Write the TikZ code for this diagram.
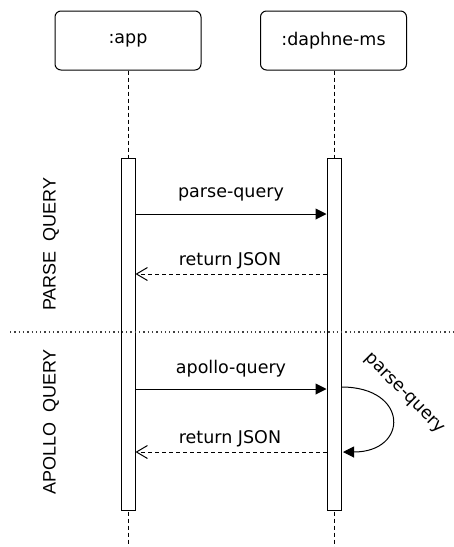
\documentclass[tikz,border=0pt]{standalone}
\usepackage{fontspec}
\setmainfont{DejaVu Sans}
\newfontfamily\framefont{Liberation Sans}
\usetikzlibrary{arrows.meta}

\tikzset{
  participant/.style={draw, line width=1pt, rounded corners=6pt,
    minimum width=146pt, minimum height=59pt, inner sep=0pt,
    font=\fontsize{17.5}{20}\selectfont},
  activation/.style={draw, line width=1pt, fill=white,
    minimum width=14pt, minimum height=352pt, inner sep=0pt},
  lifeline/.style={line width=1pt, dash pattern=on 4pt off 3pt},
  callmsg/.style={line width=1pt, -{Triangle[length=11pt,width=11pt]}},
  replymsg/.style={line width=1pt, dash pattern=on 4pt off 3pt,
    -{Straight Barb[length=11pt,width=13pt,line width=1pt]}},
  msglabel/.style={inner sep=0pt, font=\fontsize{17.5}{20}\selectfont},
  framelabel/.style={inner sep=0pt, rotate=90, font=\framefont\fontsize{18}{20}\selectfont},
  separator/.style={line width=1.2pt, black!75, dash pattern=on 1.3pt off 3pt}
}

\begin{document}
\begin{tikzpicture}[x=1pt, y=-1pt]
  \useasboundingbox (0,0) rectangle (454,547);

  % participants
  \node[participant] (app) at (128,40.5) {:app};
  \node[participant] (dms) at (333.5,40.5) {:daphne-ms};

  % lifeline ends
  \coordinate (endA) at (128,547);
  \coordinate (endD) at (334,547);

  % lifelines (drawn before the activation bars)
  \draw[lifeline] (app.south) -- (endA);
  \draw[lifeline] (dms.south -| endD) -- (endD);

  % activation bars
  \node[activation] (actA) at (128,334) {};
  \node[activation] (actD) at (334,334) {};

  % frame separator and section titles
  \coordinate (sepL) at (10,332);
  \coordinate (sepR) at (453,332);
  \draw[separator] (sepL) -- (sepR);
  \node[framelabel] (lblParse) at (51,244) {PARSE\ \ QUERY};
  \node[framelabel] (lblApollo) at (51,422) {APOLLO\ \ QUERY};

  % parse query section
  \draw[callmsg] (actA.east |- 0,214) -- (actD.west |- 0,214);
  \node[msglabel] (m1) at (231,194) {parse-query};
  \draw[replymsg] (actD.west |- 0,274) -- (actA.east |- 0,274);
  \node[msglabel] (m2) at (230,261) {return JSON};

  % apollo query section
  \draw[callmsg] (actA.east |- 0,389) -- (actD.west |- 0,389);
  \node[msglabel] (m3) at (231,369) {apollo-query};
  \coordinate (selfEnd) at (343,452);
  \draw[callmsg] (actD.east |- 0,387) .. controls (409,387) and (409,452) .. (selfEnd);
  \node[msglabel, rotate=-45] (m4) at (404,394) {parse-query};
  \draw[replymsg] (actD.west |- 0,452) -- (actA.east |- 0,452);
  \node[msglabel] (m5) at (230,439) {return JSON};
\end{tikzpicture}
\end{document}
